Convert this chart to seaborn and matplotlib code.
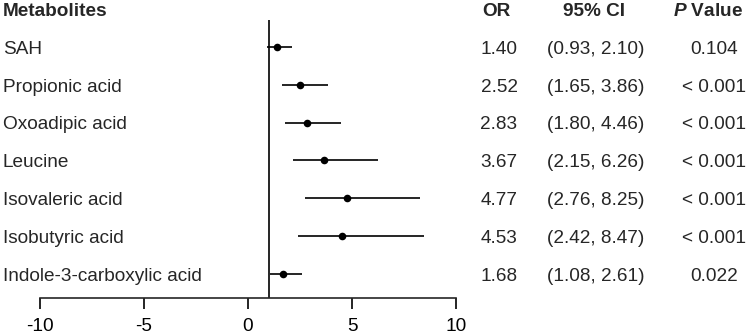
import matplotlib
matplotlib.use("Agg")
import matplotlib.pyplot as plt
import seaborn as sns
import pandas as pd

metabolites = ["SAH", "Propionic acid", "Oxoadipic acid", "Leucine",
               "Isovaleric acid", "Isobutyric acid", "Indole-3-carboxylic acid"]
or_values = [1.40, 2.52, 2.83, 3.67, 4.77, 4.53, 1.68]
ci_low = [0.93, 1.65, 1.80, 2.15, 2.76, 2.42, 1.08]
ci_high = [2.10, 3.86, 4.46, 6.26, 8.25, 8.47, 2.61]
p_labels = ["0.104", "< 0.001", "< 0.001", "< 0.001", "< 0.001", "< 0.001", "0.022"]
x_ticks = [-10, -5, 0, 5, 10]

df = pd.DataFrame({"name": metabolites, "OR": or_values, "lo": ci_low,
                   "hi": ci_high, "p": p_labels})
df["row"] = range(len(df))

sns.set_style("white")
plt.rcParams["font.family"] = ["Liberation Sans", "DejaVu Sans"]
plt.rcParams["mathtext.fontset"] = "custom"
plt.rcParams["mathtext.rm"] = "Liberation Sans"
plt.rcParams["mathtext.it"] = "Liberation Sans:italic"
plt.rcParams["mathtext.bf"] = "Liberation Sans:bold"
plt.rcParams["mathtext.bfit"] = "Liberation Sans:italic:bold"

fig = plt.figure(figsize=(7.49, 3.35), dpi=100)
ax = fig.add_axes([40 / 749, 37 / 335, 416 / 749, 298 / 335])

fs = 13.7
ax.hlines(df["row"], df["lo"], df["hi"], color="black", lw=1.2)
sns.scatterplot(data=df, x="OR", y="row", ax=ax, color="black", s=30,
                edgecolor="black", linewidth=0, zorder=3, legend=False)

ax.set_xlim(-10, 10)
ax.set_ylim(6.64, -1.243)
ax.vlines(1, -0.714, 6.64, color="black", lw=1.2)

for s in ["left", "top", "right"]:
    ax.spines[s].set_visible(False)
ax.spines["bottom"].set_bounds(-10, 10)
ax.spines["bottom"].set_linewidth(1.2)
ax.set_xticks(x_ticks)
ax.set_xticklabels([str(t) for t in x_ticks], fontsize=fs)
ax.tick_params(axis="x", direction="out", length=7.8, width=1.2, pad=6.3,
               bottom=True, colors="black")
ax.set_yticks([])
ax.set_xlabel("")
ax.set_ylabel("")

off = 0.18
hy = -0.82
ax.text(-11.78, hy, "Metabolites", fontsize=fs, fontweight="bold",
        ha="left", va="baseline", clip_on=False)
ax.text(11.92, hy, "OR", fontsize=fs, fontweight="bold", ha="center",
        va="baseline", clip_on=False)
ax.text(16.63, hy, "95% CI", fontsize=fs, fontweight="bold", ha="center",
        va="baseline", clip_on=False)
ax.text(22.12, hy, r"$\bfit{P}$ Value", fontsize=fs, fontweight="bold",
        ha="center", va="baseline", clip_on=False)

for _, r in df.iterrows():
    y = r["row"] + off
    ax.text(-11.78, y, r["name"], fontsize=fs, ha="left", va="baseline", clip_on=False)
    ax.text(12.07, y, f"{r['OR']:.2f}", fontsize=fs, ha="center", va="baseline", clip_on=False)
    ax.text(16.73, y, f"({r['lo']:.2f}, {r['hi']:.2f})", fontsize=fs,
            ha="center", va="baseline", clip_on=False)
    ax.text(22.4, y, r["p"], fontsize=fs, ha="center", va="baseline", clip_on=False)

fig.savefig("out.png", dpi=100)
